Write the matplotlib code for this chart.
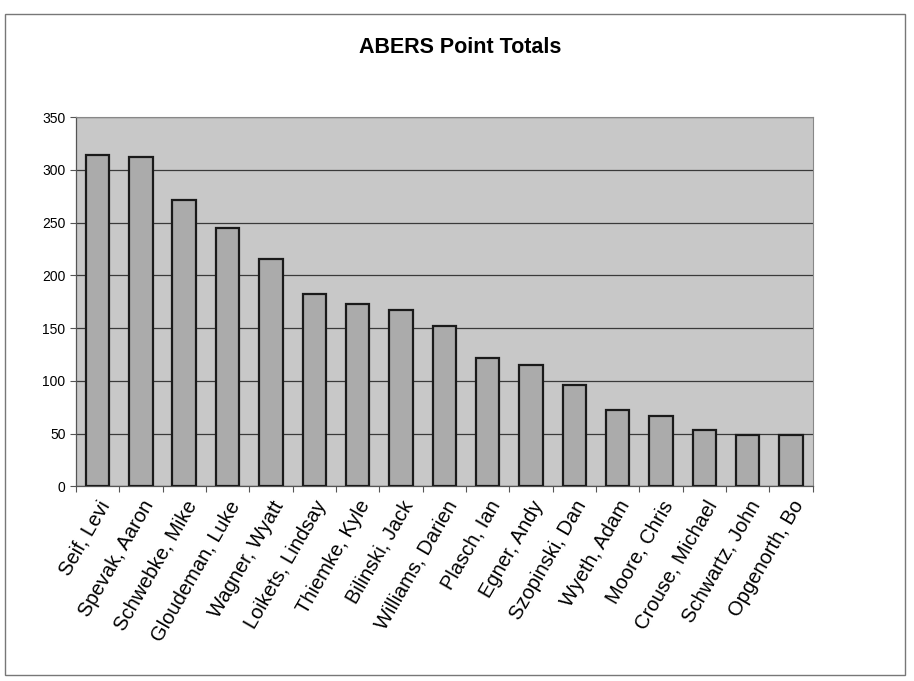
import numpy as np
import matplotlib
matplotlib.use("Agg")
import matplotlib.pyplot as plt
from matplotlib.patches import Rectangle

names = ["Seif, Levi", "Spevak, Aaron", "Schwebke, Mike", "Gloudeman, Luke",
         "Wagner, Wyatt", "Loikets, Lindsay", "Thiemke, Kyle", "Bilinski, Jack",
         "Williams, Darien", "Plasch, Ian", "Egner, Andy", "Szopinski, Dan",
         "Wyeth, Adam", "Moore, Chris", "Crouse, Michael", "Schwartz, John",
         "Opgenorth, Bo"]
points = [314, 312, 271, 245, 215, 182, 173, 167, 152, 122, 115, 96,
          72, 67, 53, 49, 49]
yticks = [0, 50, 100, 150, 200, 250, 300, 350]

plt.rcParams['font.family'] = ['Liberation Sans', 'DejaVu Sans']

def main():
    fig = plt.figure(figsize=(9.14, 6.81), dpi=100)
    fig.patches.append(Rectangle((0.006, 0.009), 0.984, 0.97, transform=fig.transFigure,
                                 fill=False, edgecolor='#777777', linewidth=1.0))
    ax = fig.add_axes([0.083, 0.286, 0.806, 0.542])
    ax.set_facecolor('#c8c8c8')
    x = np.arange(len(names))
    ax.bar(x, points, width=0.54, color='#ababab', edgecolor='#1a1a1a',
           linewidth=1.6, zorder=3)
    ax.set_xlim(-0.5, len(names) - 0.5)
    ax.set_ylim(0, 350)
    ax.set_yticks(yticks)
    ax.yaxis.grid(True, color='#3a3a3a', linewidth=0.9, zorder=1)
    ax.set_axisbelow(True)
    # category boundaries carry the tick marks, names sit between them
    ax.set_xticks(np.arange(len(names) + 1) - 0.5, minor=False)
    ax.set_xticklabels([])
    ax.set_xticks(x, minor=True)
    ax.set_xticklabels(names, minor=True, rotation=60, ha='right',
                       rotation_mode='anchor', fontsize=14.5)
    ax.tick_params(axis='x', which='minor', length=0, pad=8)
    ax.tick_params(axis='x', which='major', length=4, direction='out', color='#555555')
    ax.tick_params(axis='y', labelsize=10, length=4, color='#555555')
    for s in ['top', 'right']:
        ax.spines[s].set_color('#888888')
        ax.spines[s].set_linewidth(0.8)
    for s in ['left', 'bottom']:
        ax.spines[s].set_color('#555555')
        ax.spines[s].set_linewidth(0.9)
    fig.text(0.504, 0.93, "ABERS Point Totals", ha='center', va='center',
             fontsize=15.5, fontweight='bold')
    fig.savefig("out.png", dpi=100, facecolor='white')

if __name__ == "__main__":
    main()
